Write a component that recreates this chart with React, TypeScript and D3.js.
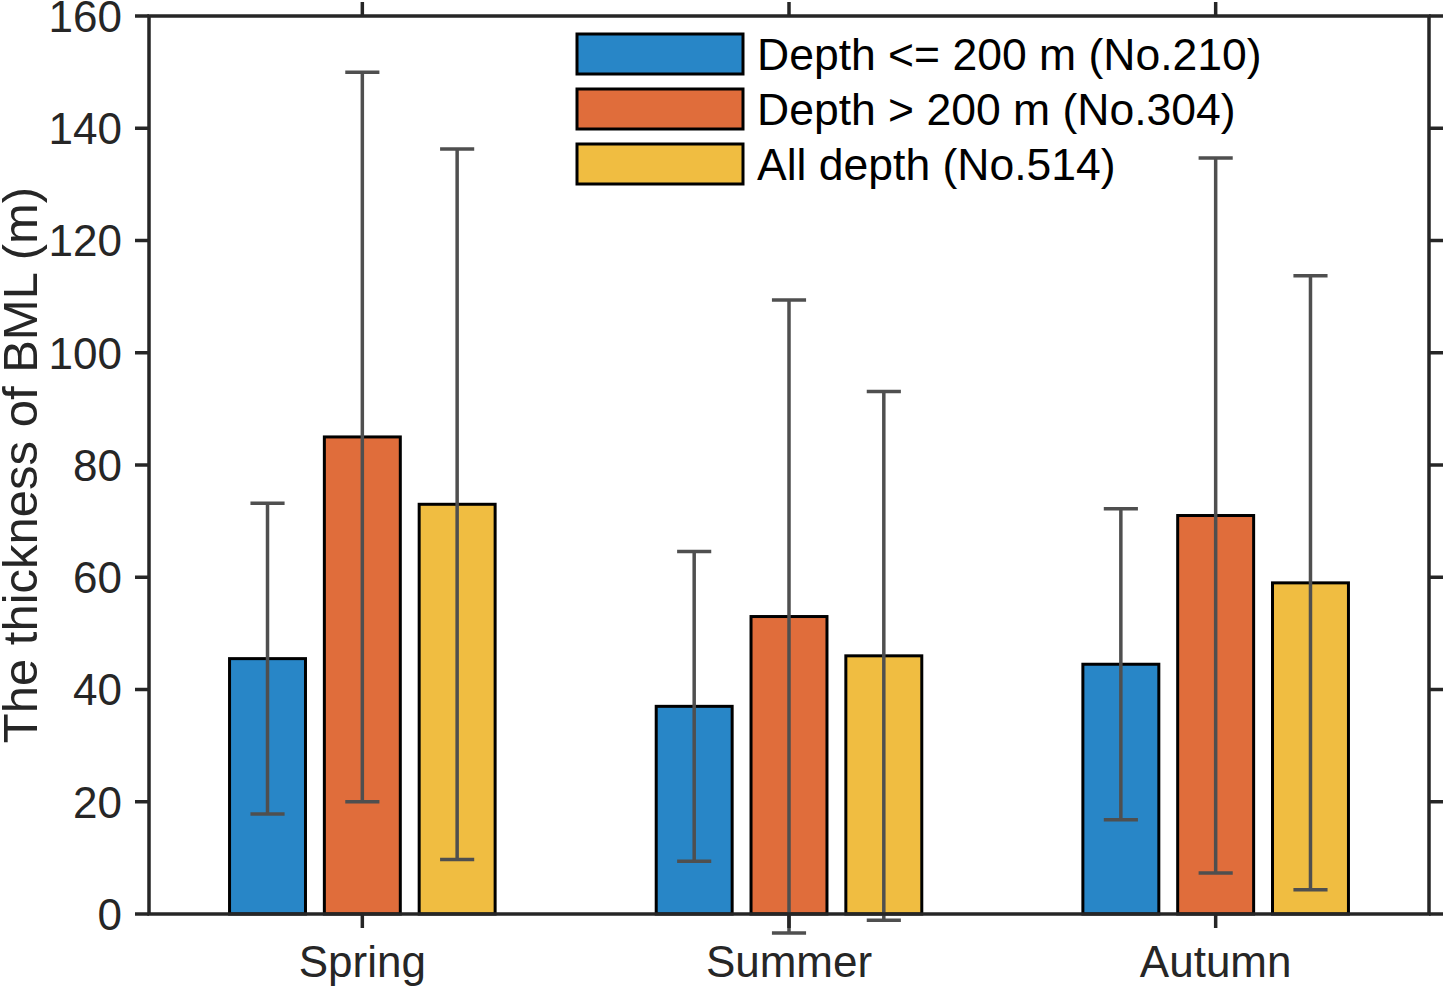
import { useEffect } from "react";
import * as d3 from "d3";

const width = 1445;
const height = 987;
const margin = { top: 16, right: 16, bottom: 73, left: 149 };

const seasons = ["Spring", "Summer", "Autumn"];
const seriesNames = [
  "Depth <= 200 m (No.210)",
  "Depth > 200 m (No.304)",
  "All depth (No.514)",
];
const seriesColors = ["#2886c7", "#e06d3b", "#f0bd41"];

// mean thickness and its standard deviation per season
const shallowMean = [45.5, 37, 44.5];
const shallowStd = [27.7, 27.6, 27.7];
const deepMean = [85, 53, 71];
const deepStd = [65, 56.4, 63.7];
const allMean = [73, 46, 59];
const allStd = [63.3, 47.1, 54.7];

const yTicks = [0, 20, 40, 60, 80, 100, 120, 140, 160];

const means = [shallowMean, deepMean, allMean];
const stds = [shallowStd, deepStd, allStd];

const font = "'Liberation Sans', Arial, Helvetica, sans-serif";
const axisColor = "#262626";
const errColor = "#4f4f4f";

const App = () => {
  useEffect(() => {
    document.body.style.margin = "0";
  }, []);

  const x = d3
    .scaleLinear()
    .domain([0.5, seasons.length + 0.5])
    .range([margin.left, width - margin.right]);
  const y = d3
    .scaleLinear()
    .domain([0, 160])
    .range([height - margin.bottom, margin.top]);

  // MATLAB-style grouped bar layout
  const groupOffset = 2 / 9;
  const barW = x(0.178) - x(0);
  const capW = x(0.08) - x(0);
  const tick = 14;

  const x0 = margin.left;
  const x1 = width - margin.right;
  const y0 = height - margin.bottom;
  const y1 = margin.top;

  return (
    <svg width={width} height={height} style={{ display: "block" }}>
      <rect width={width} height={height} fill="#fff" />

      {means.map((series, s) =>
        series.map((v, i) => {
          const cx = x(i + 1 + (s - 1) * groupOffset);
          return (
            <rect
              key={`bar-${s}-${i}`}
              x={cx - barW / 2}
              y={y(v)}
              width={barW}
              height={y(0) - y(v)}
              fill={seriesColors[s]}
              stroke="#000"
              strokeWidth={3}
            />
          );
        })
      )}

      {means.map((series, s) =>
        series.map((v, i) => {
          const cx = x(i + 1 + (s - 1) * groupOffset);
          const hi = y(v + stds[s][i]);
          const lo = y(v - stds[s][i]);
          return (
            <g key={`err-${s}-${i}`} stroke={errColor} strokeWidth={3.5}>
              <line x1={cx} x2={cx} y1={hi} y2={lo} />
              <line x1={cx - capW / 2} x2={cx + capW / 2} y1={hi} y2={hi} />
              <line x1={cx - capW / 2} x2={cx + capW / 2} y1={lo} y2={lo} />
            </g>
          );
        })
      )}

      {/* axes box */}
      <g stroke={axisColor} strokeWidth={3.5} fill="none">
        <rect x={x0} y={y1} width={x1 - x0} height={y0 - y1} />
        {yTicks.map((t) => (
          <g key={`yt-${t}`}>
            <line x1={x0 - tick} x2={x0} y1={y(t)} y2={y(t)} />
            <line x1={x1} x2={x1 + tick} y1={y(t)} y2={y(t)} />
          </g>
        ))}
        {seasons.map((_, i) => (
          <g key={`xt-${i}`}>
            <line x1={x(i + 1)} x2={x(i + 1)} y1={y0} y2={y0 + tick} />
            <line x1={x(i + 1)} x2={x(i + 1)} y1={y1} y2={y1 - tick} />
          </g>
        ))}
      </g>

      <g fontFamily={font} fontSize={44} fill={axisColor}>
        {yTicks.map((t) => (
          <text
            key={`yl-${t}`}
            x={x0 - tick - 13}
            y={y(t)}
            dy="0.36em"
            textAnchor="end"
          >
            {t}
          </text>
        ))}
        {seasons.map((name, i) => (
          <text key={name} x={x(i + 1)} y={977} textAnchor="middle">
            {name}
          </text>
        ))}
        <text
          transform={`translate(37, 465) rotate(-90)`}
          textAnchor="middle"
          fontSize={49}
        >
          The thickness of BML (m)
        </text>
      </g>

      {/* legend */}
      <g fontFamily={font} fontSize={44.5}>
        {seriesNames.map((name, s) => {
          const top = 34 + s * 55;
          return (
            <g key={name}>
              <rect
                x={577}
                y={top}
                width={166}
                height={40}
                fill={seriesColors[s]}
                stroke="#000"
                strokeWidth={3}
              />
              <text x={757} y={top + 20} dy="0.36em" fill="#000">
                {name}
              </text>
            </g>
          );
        })}
      </g>
    </svg>
  );
};

export default App;
